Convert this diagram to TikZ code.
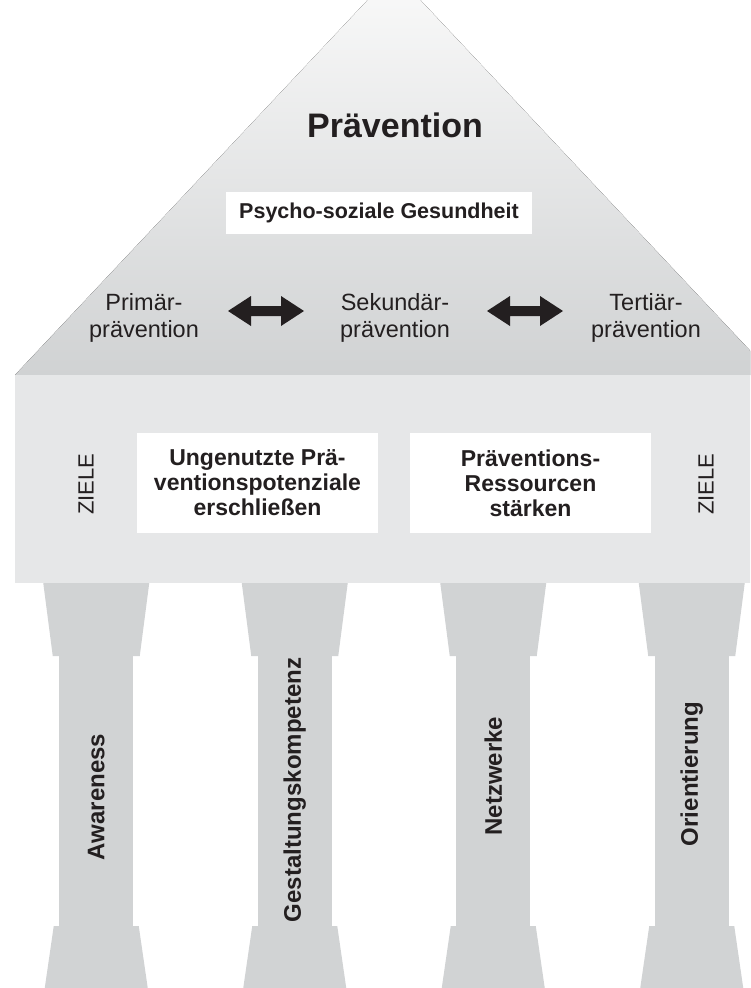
\documentclass[tikz,border=0pt]{standalone}
\usepackage{fontspec}
\setmainfont{Liberation Sans}
\definecolor{bodygray}{HTML}{E6E7E8}
\definecolor{pillgray}{HTML}{D1D3D4}
\definecolor{rooftop}{HTML}{FAFAFA}
\definecolor{roofbot}{HTML}{D0D2D3}
\definecolor{ink}{HTML}{231F20}
\tikzset{
  titletext/.style={font=\fontsize{34}{40}\selectfont\bfseries, text=ink, inner sep=0pt},
  bandbox/.style={fill=white, inner sep=0pt, minimum width=306pt, minimum height=42pt,
    font=\fontsize{21.5}{25}\selectfont\bfseries, text=ink},
  goalbox/.style={fill=white, inner sep=0pt, minimum width=241pt, minimum height=100pt,
    align=center, font=\fontsize{23}{25}\selectfont\bfseries, text=ink},
  stagetext/.style={align=center, font=\fontsize{23.5}{27}\selectfont, text=ink, inner sep=0pt},
  zieltext/.style={rotate=90, font=\fontsize{22}{25}\selectfont, text=ink, inner sep=0pt},
  pillartext/.style={rotate=90, font=\fontsize{24}{28}\selectfont\bfseries, text=ink, inner sep=0pt},
  dblarrow/.pic={\fill[ink] (-38,0) -- (-15,-15) -- (-15,-5) -- (15,-5) -- (15,-15) -- (38,0)
      -- (15,15) -- (15,5) -- (-15,5) -- (-15,15) -- cycle;}
}
\begin{document}
\begin{tikzpicture}[x=1pt,y=-1pt]
\useasboundingbox (0,0) rectangle (750,988);
\begin{scope}
  \clip (0,0) rectangle (750,988);
  % roof
  \fill[top color=rooftop, bottom color=roofbot] (394,-28) -- (773,375) -- (15,375) -- cycle;
  % body
  \fill[bodygray] (15,375) rectangle (773,583);
  % pillars
  \foreach \c in {96.25,294.75,493.25,691.75}{
    \fill[pillgray] ({\c-53},583) -- ({\c+53},583) -- ({\c+43.5},656) -- ({\c-43.5},656) -- cycle;
    \fill[pillgray] ({\c-37},655.5) rectangle ({\c+37},926.5);
    \fill[pillgray] ({\c-42.5},926) -- ({\c+42.5},926) -- ({\c+51.5},988) -- ({\c-51.5},988) -- cycle;
  }
\end{scope}

% roof texts
\node[titletext, anchor=base] (title) at (395,137) {Prävention};
\node[bandbox] (psycho) at (379,213) {Psycho-soziale Gesundheit};
\node[stagetext] (prim) at (144,318) {Primär-\\prävention};
\node[stagetext] (sek) at (395,318) {Sekundär-\\prävention};
\node[stagetext] (tert) at (646,318) {Tertiär-\\prävention};
\pic at (266,311) {dblarrow};
\pic at (525,311) {dblarrow};

% body texts
\node[zieltext] (zl) at (86,484) {ZIELE};
\node[zieltext] (zr) at (706,484) {ZIELE};
\node[goalbox] (g1) at (257.5,483) {Ungenutzte Prä-\\ventionspotenziale\\erschließen};
\node[goalbox] (g2) at (530.5,483) {Präventions-\\Ressourcen\\stärken};

% pillar labels
\node[pillartext] (p1) at (96.25,797) {Awareness};
\node[pillartext] (p2) at (294.75,790) {Gestaltungskompetenz};
\node[pillartext] (p3) at (493.25,776) {Netzwerke};
\node[pillartext] (p4) at (691.75,774) {Orientierung};
\end{tikzpicture}
\end{document}
